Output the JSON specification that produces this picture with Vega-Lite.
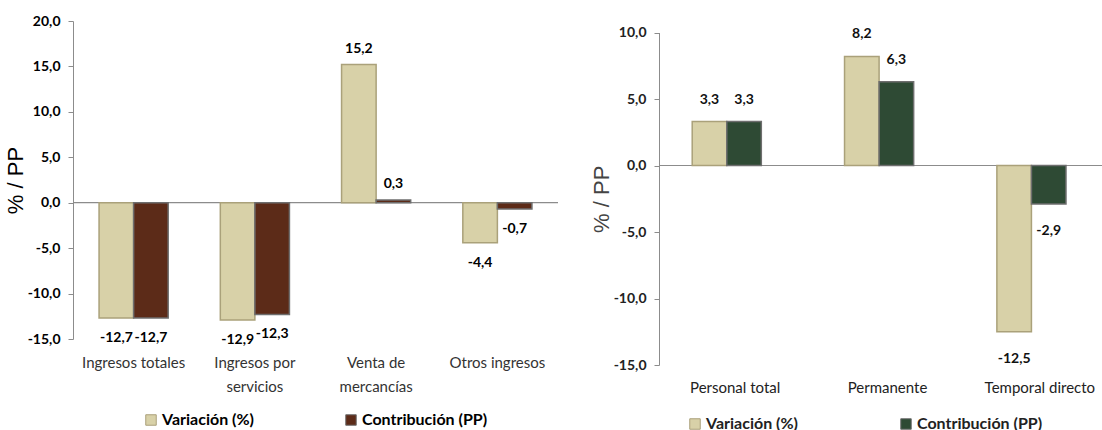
{
  "$schema": "https://vega.github.io/schema/vega-lite/v6.json",
  "padding": {"left": 4, "top": 14, "right": 0, "bottom": 0},
  "autosize": {"type": "pad"},
  "spacing": 31,
  "background": "white",
  "datasets": {
    "ingresos": [
      {"cat": "Ingresos totales", "serie": "Variación (%)", "valor": -12.7},
      {"cat": "Ingresos totales", "serie": "Contribución (PP)", "valor": -12.7},
      {"cat": "Ingresos por servicios", "serie": "Variación (%)", "valor": -12.9},
      {"cat": "Ingresos por servicios", "serie": "Contribución (PP)", "valor": -12.3},
      {"cat": "Venta de mercancías", "serie": "Variación (%)", "valor": 15.2},
      {"cat": "Venta de mercancías", "serie": "Contribución (PP)", "valor": 0.3},
      {"cat": "Otros ingresos", "serie": "Variación (%)", "valor": -4.4},
      {"cat": "Otros ingresos", "serie": "Contribución (PP)", "valor": -0.7}
    ],
    "personal": [
      {"cat": "Personal total", "serie": "Variación (%)", "valor": 3.3},
      {"cat": "Personal total", "serie": "Contribución (PP)", "valor": 3.3},
      {"cat": "Permanente", "serie": "Variación (%)", "valor": 8.2},
      {"cat": "Permanente", "serie": "Contribución (PP)", "valor": 6.3},
      {"cat": "Temporal directo", "serie": "Variación (%)", "valor": -12.5},
      {"cat": "Temporal directo", "serie": "Contribución (PP)", "valor": -2.9}
    ],
    "cero": [{"cero": 0}]
  },
  "config": {
    "view": {"stroke": null},
    "locale": {"number": {"decimal": ",", "thousands": ".", "grouping": [3], "currency": ["", ""], "minus": "-"}},
    "font": "Lato",
    "axis": {"grid": false, "domainColor": "#8c8c8c", "tickColor": "#8c8c8c", "labelFont": "Lato"},
    "legend": {"labelFont": "Lato"},
    "text": {"font": "Lato"}
  },
  "resolve": {"scale": {"color": "independent", "stroke": "independent", "x": "independent", "y": "independent"}},
  "hconcat": [
    {
      "width": 485,
      "height": 318,
      "layer": [
        {
          "data": {"name": "cero"},
          "mark": {"type": "rule", "color": "#8c8c8c", "strokeWidth": 1.2},
          "encoding": {"y": {"field": "cero", "type": "quantitative", "scale": {"domain": [-15, 20], "nice": false}}}
        },
        {
          "data": {"name": "ingresos"},
          "mark": {"type": "bar", "strokeWidth": 1.5},
          "encoding": {
            "x": {"field": "cat", "type": "nominal", "sort": null, "scale": {"paddingInner": 0.43, "paddingOuter": 0.215},
              "axis": {"title": null, "domain": false, "ticks": false, "labelAngle": 0, "labelPadding": 16, "labelFontSize": 15, "labelColor": "#333333", "labelLineHeight": 24,
                "labelExpr": "datum.value == 'Ingresos por servicios' ? ['Ingresos por', 'servicios'] : datum.value == 'Venta de mercancías' ? ['Venta de', 'mercancías'] : datum.value"}},
            "xOffset": {"field": "serie", "type": "nominal", "sort": ["Variación (%)", "Contribución (PP)"]},
            "y": {"field": "valor", "type": "quantitative", "scale": {"domain": [-15, 20], "nice": false},
              "axis": {"title": "% / PP", "titleFont": "Liberation Sans", "titleFontSize": 22, "titleFontWeight": "normal", "titleColor": "#000000", "titlePadding": 0,
                "values": [-15, -10, -5, 0, 5, 10, 15, 20], "format": ".1f", "labelFontWeight": "bold", "labelFontSize": 14, "labelColor": "#000000", "tickSize": 5, "labelPadding": 8}},
            "color": {"field": "serie", "type": "nominal", "sort": ["Variación (%)", "Contribución (PP)"],
              "scale": {"domain": ["Variación (%)", "Contribución (PP)"], "range": ["#D8D1A8", "#5C2B18"]},
              "legend": {"orient": "none", "legendX": 70, "legendY": 391, "direction": "horizontal", "title": null, "symbolType": "square", "symbolSize": 110,
                "symbolStrokeColor": "#7a7a7a", "symbolStrokeWidth": 1, "labelFontSize": 16, "labelFontWeight": "bold", "labelColor": "#000000", "columnPadding": 89, "labelOffset": 3}},
            "stroke": {"field": "serie", "type": "nominal", "scale": {"domain": ["Variación (%)", "Contribución (PP)"], "range": ["#aaa17a", "#6e6e6e"]}, "legend": null}
          }
        },
        {
          "data": {"name": "ingresos"},
          "transform": [{"filter": "datum.valor >= 0"}],
          "mark": {"type": "text", "baseline": "bottom", "dy": -9, "fontSize": 14, "fontWeight": "bold", "color": "#000000"},
          "encoding": {
            "x": {"field": "cat", "type": "nominal", "sort": null},
            "xOffset": {"field": "serie", "type": "nominal", "sort": ["Variación (%)", "Contribución (PP)"]},
            "y": {"field": "valor", "type": "quantitative"},
            "text": {"field": "valor", "type": "quantitative", "format": ".1f"}
          }
        },
        {
          "data": {"name": "ingresos"},
          "transform": [{"filter": "datum.valor < 0"}],
          "mark": {"type": "text", "baseline": "top", "dy": 13, "fontSize": 14, "fontWeight": "bold", "color": "#000000"},
          "encoding": {
            "x": {"field": "cat", "type": "nominal", "sort": null},
            "xOffset": {"field": "serie", "type": "nominal", "sort": ["Variación (%)", "Contribución (PP)"]},
            "y": {"field": "valor", "type": "quantitative"},
            "text": {"field": "valor", "type": "quantitative", "format": ".1f"}
          }
        }
      ]
    },
    {
      "width": 457,
      "height": 344,
      "layer": [
        {
          "data": {"name": "cero"},
          "mark": {"type": "rule", "color": "#8c8c8c", "strokeWidth": 1.2},
          "encoding": {"y": {"field": "cero", "type": "quantitative", "scale": {"domain": [-15, 10], "nice": false, "range": [344, 11.5]}}}
        },
        {
          "data": {"name": "personal"},
          "mark": {"type": "bar", "strokeWidth": 1.5},
          "encoding": {
            "x": {"field": "cat", "type": "nominal", "sort": null, "scale": {"paddingInner": 0.436, "paddingOuter": 0.218},
              "axis": {"title": null, "domain": false, "ticks": false, "labelAngle": 0, "labelPadding": 15, "labelFontSize": 15, "labelColor": "#222222"}},
            "xOffset": {"field": "serie", "type": "nominal", "sort": ["Variación (%)", "Contribución (PP)"]},
            "y": {"field": "valor", "type": "quantitative", "scale": {"domain": [-15, 10], "nice": false, "range": [344, 11.5]},
              "axis": {"title": "% / PP", "titleFont": "Liberation Sans", "titleFontSize": 22, "titleFontWeight": "normal", "titleColor": "#444444", "titlePadding": 0,
                "values": [-15, -10, -5, 0, 5, 10], "format": ".1f", "labelFontWeight": "bold", "labelFontSize": 14, "labelColor": "#222222", "tickSize": 5, "labelPadding": 8}},
            "color": {"field": "serie", "type": "nominal", "sort": ["Variación (%)", "Contribución (PP)"],
              "scale": {"domain": ["Variación (%)", "Contribución (PP)"], "range": ["#D8D1A8", "#2E4A34"]},
              "legend": {"orient": "none", "legendX": 28, "legendY": 395, "direction": "horizontal", "title": null, "symbolType": "square", "symbolSize": 110,
                "symbolStrokeColor": "#7a7a7a", "symbolStrokeWidth": 1, "labelFontSize": 16, "labelFontWeight": "bold", "labelColor": "#222222", "columnPadding": 100, "labelOffset": 3}},
            "stroke": {"field": "serie", "type": "nominal", "scale": {"domain": ["Variación (%)", "Contribución (PP)"], "range": ["#aaa17a", "#6e6e6e"]}, "legend": null}
          }
        },
        {
          "data": {"name": "personal"},
          "transform": [{"filter": "datum.valor >= 0"}],
          "mark": {"type": "text", "baseline": "bottom", "dy": -15, "fontSize": 14, "fontWeight": "bold", "color": "#111111"},
          "encoding": {
            "x": {"field": "cat", "type": "nominal", "sort": null},
            "xOffset": {"field": "serie", "type": "nominal", "sort": ["Variación (%)", "Contribución (PP)"]},
            "y": {"field": "valor", "type": "quantitative"},
            "text": {"field": "valor", "type": "quantitative", "format": ".1f"}
          }
        },
        {
          "data": {"name": "personal"},
          "transform": [{"filter": "datum.valor < 0"}],
          "mark": {"type": "text", "baseline": "top", "dy": 20, "fontSize": 14, "fontWeight": "bold", "color": "#111111"},
          "encoding": {
            "x": {"field": "cat", "type": "nominal", "sort": null},
            "xOffset": {"field": "serie", "type": "nominal", "sort": ["Variación (%)", "Contribución (PP)"]},
            "y": {"field": "valor", "type": "quantitative"},
            "text": {"field": "valor", "type": "quantitative", "format": ".1f"}
          }
        }
      ]
    }
  ]
}
